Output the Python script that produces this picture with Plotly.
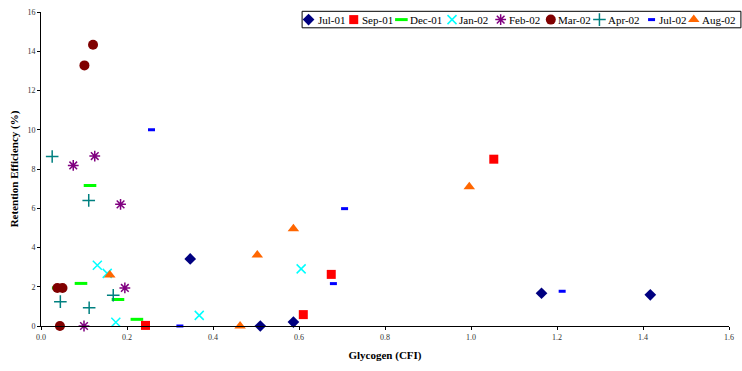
import plotly.graph_objects as go

# ---- data ----
jul01_x = [0.347, 0.510, 0.587, 1.164, 1.417]
jul01_y = [3.42, 0.0, 0.20, 1.67, 1.59]
sep01_x = [0.243, 0.610, 0.675, 1.053]
sep01_y = [0.03, 0.58, 2.63, 8.50]
dec01_x = [0.040, 0.093, 0.114, 0.179, 0.223]
dec01_y = [1.94, 2.17, 7.16, 1.35, 0.34]
jan02_x = [0.131, 0.154, 0.174, 0.368, 0.605]
jan02_y = [3.10, 2.68, 0.19, 0.54, 2.91]
feb02_x = [0.075, 0.125, 0.185, 0.195, 0.100]
feb02_y = [8.18, 8.66, 6.20, 1.94, 0.0]
mar02_x = [0.101, 0.121, 0.038, 0.050, 0.044]
mar02_y = [13.28, 14.33, 1.94, 1.94, 0.0]
apr02_x = [0.026, 0.111, 0.045, 0.168, 0.112]
apr02_y = [8.64, 6.40, 1.24, 1.57, 0.93]
jul02_x = [0.257, 0.323, 0.680, 0.706, 1.212]
jul02_y = [10.0, 0.0, 2.16, 5.98, 1.77]
aug02_x = [0.160, 0.463, 0.503, 0.587, 0.996]
aug02_y = [2.60, 0.0, 3.62, 4.95, 7.10]

series_names = ["Jul-01", "Sep-01", "Dec-01", "Jan-02", "Feb-02",
                "Mar-02", "Apr-02", "Jul-02", "Aug-02"]
x_ticks = [0.0, 0.2, 0.4, 0.6, 0.8, 1.0, 1.2, 1.4, 1.6]
y_ticks = [0, 2, 4, 6, 8, 10, 12, 14, 16]

series_x = [jul01_x, sep01_x, dec01_x, jan02_x, feb02_x, mar02_x, apr02_x, jul02_x, aug02_x]
series_y = [jul01_y, sep01_y, dec01_y, jan02_y, feb02_y, mar02_y, apr02_y, jul02_y, aug02_y]

styles = [
    dict(symbol="diamond", size=9, color="#000080"),
    dict(symbol="square", size=9, color="#FF0000"),
    dict(symbol="line-ew", size=9, color="#00FF00", line=dict(color="#00FF00", width=3)),
    dict(symbol="x-thin", size=9, color="#00FFFF", line=dict(color="#00FFFF", width=1.5)),
    dict(symbol="asterisk", size=9, color="#800080", line=dict(color="#800080", width=1.5)),
    dict(symbol="circle", size=10, color="#800000"),
    dict(symbol="cross-thin", size=9, color="#008080", line=dict(color="#008080", width=1.5)),
    dict(symbol="line-ew", size=5, color="#0000FF", line=dict(color="#0000FF", width=3)),
    dict(symbol="triangle-up", size=10, color="#FF6600"),
]

W, H = 742, 371
ML, MR, MT, MB = 41, 8, 8, 45
PW, PH = W - ML - MR, H - MT - MB

fig = go.Figure()
for name, xs, ys, mk in zip(series_names, series_x, series_y, styles):
    fig.add_trace(go.Scatter(x=xs, y=ys, mode="markers", name=name, marker=mk,
                             cliponaxis=False, showlegend=False))

# ---- hand-built legend (Excel style, compact) on a pixel-mapped overlay axis ----
leg_sym_px = [310.5, 356, 404, 455, 504, 554.5, 603.5, 656, 698.5]
leg_txt_px = [317.5, 362.5, 411, 460.5, 510.5, 560, 610, 661.5, 705]
leg_y_px = 15.7
for name, mk, sx in zip(series_names, styles, leg_sym_px):
    fig.add_trace(go.Scatter(x=[sx], y=[leg_y_px], mode="markers", marker=mk,
                             xaxis="x2", yaxis="y2", cliponaxis=False,
                             showlegend=False, hoverinfo="skip"))

def px_to_paper_x(px):
    return (px - ML) / PW

def px_to_paper_y(py):
    return (H - MB - py) / PH

font_family = "Liberation Serif, Times New Roman, serif"
annotations = []
for name, tx in zip(series_names, leg_txt_px):
    annotations.append(dict(text=name, x=px_to_paper_x(tx), y=px_to_paper_y(leg_y_px),
                            xref="paper", yref="paper", xanchor="left", yanchor="middle",
                            showarrow=False, font=dict(size=11, family=font_family, color="black")))

shapes = [dict(type="rect", xref="paper", yref="paper",
               x0=px_to_paper_x(304), x1=px_to_paper_x(746),
               y0=px_to_paper_y(24), y1=px_to_paper_y(7.3),
               line=dict(color="black", width=1), fillcolor="white", layer="below")]

fig.update_layout(
    width=W, height=H,
    margin=dict(l=ML, r=MR, t=MT, b=MB),
    paper_bgcolor="white", plot_bgcolor="rgba(0,0,0,0)",
    font=dict(family=font_family, color="black"),
    showlegend=False,
    annotations=annotations,
    shapes=shapes,
    xaxis=dict(range=[0, 1.6], tickvals=x_ticks, tickformat=".1f", automargin=True,
               showgrid=False, zeroline=False, showline=True, linecolor="black",
               linewidth=1, ticks="outside", ticklen=3, tickcolor="black",
               tickfont=dict(size=8, color="#333333"),
               title=dict(text="<b>Glycogen (CFI)</b>", font=dict(size=11), standoff=10)),
    yaxis=dict(range=[0, 16], tickvals=y_ticks, automargin=True,
               showgrid=False, zeroline=False, showline=True, linecolor="black",
               linewidth=1, ticks="outside", ticklen=3, tickcolor="black",
               tickfont=dict(size=8, color="#333333"),
               title=dict(text="<b>Retention Efficiency (%)</b>", font=dict(size=11), standoff=6)),
    xaxis2=dict(range=[ML, W - MR], overlaying="x", anchor="y2", visible=False,
                fixedrange=True),
    yaxis2=dict(range=[H - MB, MT], overlaying="y", anchor="x2", visible=False,
                fixedrange=True),
)

fig.write_html("out.html", config={"displayModeBar": False},
               post_script="document.body.style.margin='0';document.body.style.overflow='hidden';")
